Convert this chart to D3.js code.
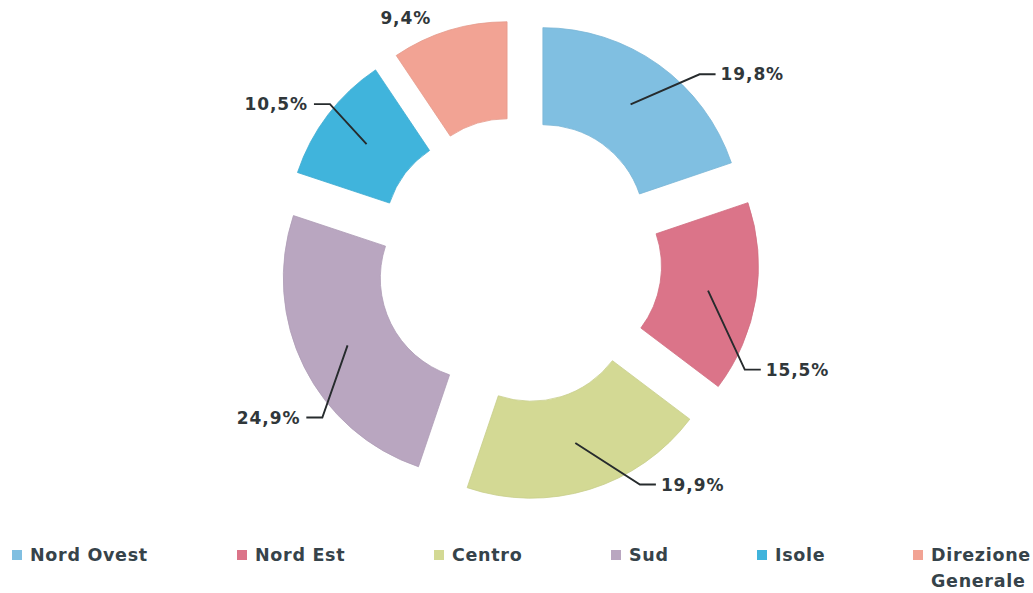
<!DOCTYPE html>
<html>
<head>
<meta charset="utf-8">
<script src="https://cdn.jsdelivr.net/npm/d3@7"></script>
<style>
  html, body { margin: 0; padding: 0; background: #ffffff; }
  svg { display: block; }
</style>
</head>
<body>
<svg id="chart" width="1033" height="593"></svg>
<script>
// ---- data ----
const categories = ["Nord Ovest", "Nord Est", "Centro", "Sud", "Isole", "Direzione Generale"];
const values = [19.8, 15.5, 19.9, 24.9, 10.5, 9.4];
const valueLabels = ["19,8%", "15,5%", "19,9%", "24,9%", "10,5%", "9,4%"];
const colors = ["#80bfe1", "#db7489", "#d3d994", "#b9a6c0", "#40b4dc", "#f2a394"];

// ---- layout (not data) ----
const cx = 519, cy = 260;
const innerR = 102, outerR = 199, explode = 41;
// label elbow placement: [angle in degrees clockwise from top, radius from center]
const labelElbows = [[44.2, 259], [115.9, 251], [151.7, 255], [231.3, 252], [309.5, 245], [334.8, 266]];
const labelHasLeader = [true, true, true, true, true, false];
const legendX = [30, 255, 452, 629, 775, 931];
const legendLines = [["Nord Ovest"], ["Nord Est"], ["Centro"], ["Sud"], ["Isole"], ["Direzione", "Generale"]];

const svg = d3.select("#chart");
const g = svg.append("g").attr("transform", `translate(${cx},${cy})`);

const pie = d3.pie().sort(null).value(d => d.value).startAngle(0).endAngle(2 * Math.PI);
const arcs = pie(categories.map((c, i) => ({ name: c, value: values[i], idx: i })));
const arc = d3.arc().innerRadius(innerR).outerRadius(outerR);

const polar = (a, r) => [r * Math.sin(a), -r * Math.cos(a)];

arcs.forEach(a => {
  const mid = (a.startAngle + a.endAngle) / 2;
  const [ox, oy] = polar(mid, explode);
  a.ox = ox; a.oy = oy; a.mid = mid;
});

g.selectAll("path.slice")
  .data(arcs)
  .join("path")
  .attr("class", "slice")
  .attr("transform", d => `translate(${d.ox},${d.oy})`)
  .attr("d", arc)
  .attr("fill", d => colors[d.data.idx])
  .attr("stroke", d => d3.color(colors[d.data.idx]).darker(0.15))
  .attr("stroke-width", 0.8);

// labels with leader lines
arcs.forEach((a, i) => {
  const [ex, ey] = polar(labelElbows[i][0] * Math.PI / 180, labelElbows[i][1]);
  const right = labelElbows[i][0] < 180;
  const tail = right ? 16 : -16;
  const txt = g.append("text")
    .attr("dominant-baseline", "middle")
    .attr("font-family", "DejaVu Sans, sans-serif")
    .attr("font-weight", "bold")
    .attr("font-size", 17)
    .attr("letter-spacing", 0.9)
    .attr("fill", "#30373a")
    .text(valueLabels[i]);
  if (labelHasLeader[i]) {
    const c = arc.centroid(a);
    const sx = c[0] + a.ox, sy = c[1] + a.oy;
    g.append("path")
      .attr("d", d3.line()([[sx, sy], [ex, ey], [ex + tail, ey]]))
      .attr("fill", "none")
      .attr("stroke", "#262b2d")
      .attr("stroke-width", 1.9);
    txt.attr("x", ex + tail + (right ? 5 : -6))
      .attr("y", ey + 1)
      .attr("text-anchor", right ? "start" : "end");
  } else {
    txt.attr("x", ex).attr("y", ey).attr("text-anchor", "middle");
  }
});

// legend
const legend = svg.append("g");
categories.forEach((c, i) => {
  const lg = legend.append("g");
  lg.append("rect")
    .attr("x", legendX[i] - 18)
    .attr("y", 550)
    .attr("width", 10)
    .attr("height", 10)
    .attr("fill", colors[i]);
  const t = lg.append("text")
    .attr("x", legendX[i])
    .attr("y", 561)
    .attr("font-family", "DejaVu Sans, sans-serif")
    .attr("font-weight", "bold")
    .attr("font-size", 17.5)
    .attr("letter-spacing", 0.7)
    .attr("fill", "#36434a");
  legendLines[i].forEach((line, j) => {
    t.append("tspan").attr("x", legendX[i]).attr("dy", j === 0 ? 0 : 26).text(line);
  });
});
</script>
</body>
</html>
